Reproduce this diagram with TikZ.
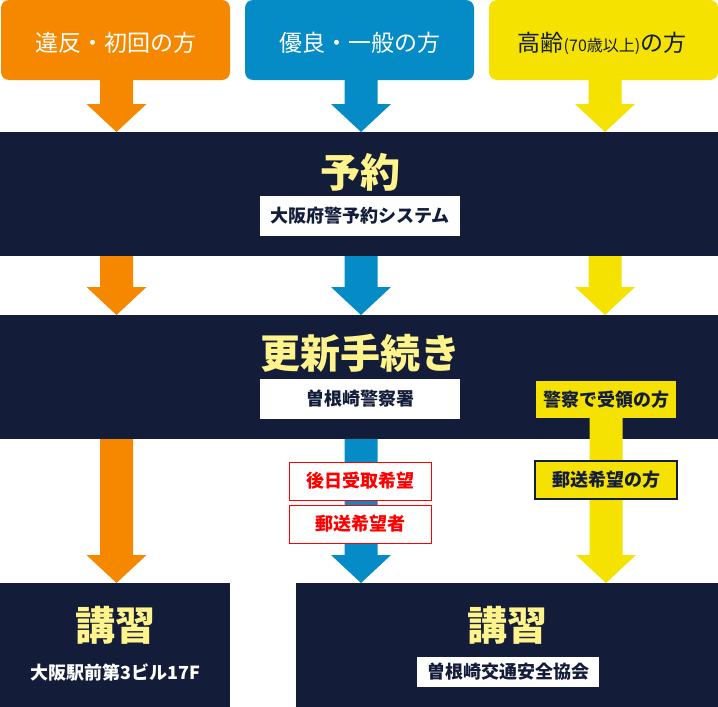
\documentclass[tikz,border=0pt]{standalone}
\usepackage{fontspec}
\setmainfont{Noto Sans CJK JP}
\usetikzlibrary{calc}
\definecolor{cOr}{HTML}{F68800}
\definecolor{cBl}{HTML}{058CC6}
\definecolor{cYe}{HTML}{F5E200}
\definecolor{cNv}{HTML}{131D3A}
\definecolor{cHd}{HTML}{FFF38C}
\definecolor{cRd}{HTML}{FF0000}
\newcommand{\fatarrow}[3]{\fill[#1] let \p1=(#2), \p2=(#3) in
  (\x1-16.5pt,\y1) -- (\x1+16.5pt,\y1) -- (\x1+16.5pt,\y2+28pt) -- (\x1+30pt,\y2+28pt)
  -- (\x1,\y2) -- (\x1-30pt,\y2+28pt) -- (\x1-16.5pt,\y2+28pt) -- cycle;}
\tikzset{
  blk/.style={draw=none, inner sep=0pt, outer sep=0pt, anchor=north west},
  toptext/.style={inner sep=0pt, font=\fontsize{23}{23}\selectfont},
  headtext/.style={inner sep=0pt, text=cHd, font=\bfseries\fontsize{40}{40}\selectfont},
  subtext/.style={inner sep=0pt, text=cNv, font=\bfseries\fontsize{18}{18}\selectfont},
}
\begin{document}
\begin{tikzpicture}[x=1pt,y=-1pt]
\useasboundingbox (0,0) rectangle (718,707);
\fill[white] (0,0) rectangle (718,707);
% top boxes
\node[blk, fill=cOr, rounded corners=8pt, minimum width=229pt, minimum height=80pt] (t1) at (1,0) {};
\node[blk, fill=cBl, rounded corners=8pt, minimum width=229pt, minimum height=80pt] (t2) at (245,0) {};
\node[blk, fill=cYe, rounded corners=8pt, minimum width=229pt, minimum height=80pt] (t3) at (489,0) {};
\node[toptext, text=white] (t1x) at (116,43) {違反・初回の方};
\node[toptext, text=white] (t2x) at (360,43) {優良・一般の方};
\node[toptext, text=cNv] (t3x) at (602,43) {高齢{\fontsize{16}{16}\selectfont(70歳以上)}の方};
% bands
\node[blk, fill=cNv, minimum width=718pt, minimum height=124pt] (b1) at (0,132) {};
\node[blk, fill=cNv, minimum width=718pt, minimum height=124pt] (b2) at (0,315) {};
\node[blk, fill=cNv, minimum width=230pt, minimum height=124pt] (b3) at (0,583) {};
\node[blk, fill=cNv, minimum width=422pt, minimum height=124pt] (b4) at (296,583) {};
% arrows row 1
\coordinate (a1) at (116.5,80);
\coordinate (a2) at (361,80);
\coordinate (a3) at (605,80);
\fatarrow{cOr}{a1}{b1.north}
\fatarrow{cBl}{a2}{b1.north}
\fatarrow{cYe}{a3}{b1.north}
% arrows row 2
\coordinate (c1) at (116.5,256);
\coordinate (c2) at (361,256);
\coordinate (c3) at (605,256);
\fatarrow{cOr}{c1}{b2.north}
\fatarrow{cBl}{c2}{b2.north}
\fatarrow{cYe}{c3}{b2.north}
% band 1 content
\node[headtext] (h1) at (360,172) {予約};
\node[blk, fill=white, minimum width=200pt, minimum height=40pt] (w1) at (260,196) {};
\node[subtext] (w1x) at (w1.center) {大阪府警予約システム};
% band 2 content
\node[headtext] (h2) at (360,353) {更新手続き};
\node[blk, fill=white, minimum width=200pt, minimum height=40pt] (w2) at (260,379) {};
\node[subtext] (w2x) at (w2.center) {曽根崎警察署};
\node[blk, fill=cYe, minimum width=140pt, minimum height=37pt] (y1) at (536,381) {};
\node[subtext] (y1x) at (y1.center) {警察で受領の方};
% arrows row 3
\coordinate (d1) at (116.5,439);
\coordinate (d2) at (361,439);
\fatarrow{cOr}{d1}{b3.north}
\fatarrow{cBl}{d2}{b4.north}
\fatarrow{cYe}{y1.south}{b4.north}
% labels on arrows
\node[blk, fill=white, draw=cRd, line width=1pt, minimum width=142pt, minimum height=38pt] (r1) at (289,462) {};
\node[subtext, text=cRd] (r1x) at (r1.center) {後日受取希望};
\node[blk, fill=white, draw=cRd, line width=1pt, minimum width=142pt, minimum height=38pt] (r2) at (289,505) {};
\node[subtext, text=cRd] (r2x) at (r2.center) {郵送希望者};
\node[blk, fill=cYe, draw=cNv, line width=1.5pt, minimum width=142pt, minimum height=38pt] (y2) at (535,461) {};
\node[subtext] (y2x) at (y2.center) {郵送希望の方};
% bottom content
\node[headtext] (h3) at (115,625) {講習};
\node[subtext, text=white] (b3x) at (115,673) {大阪駅前第3ビル17F};
\node[headtext] (h4) at (507,625) {講習};
\node[blk, fill=white, minimum width=182pt, minimum height=30pt] (w4) at (417,657) {};
\node[subtext] (w4x) at (w4.center) {曽根崎交通安全協会};
\end{tikzpicture}
\end{document}
